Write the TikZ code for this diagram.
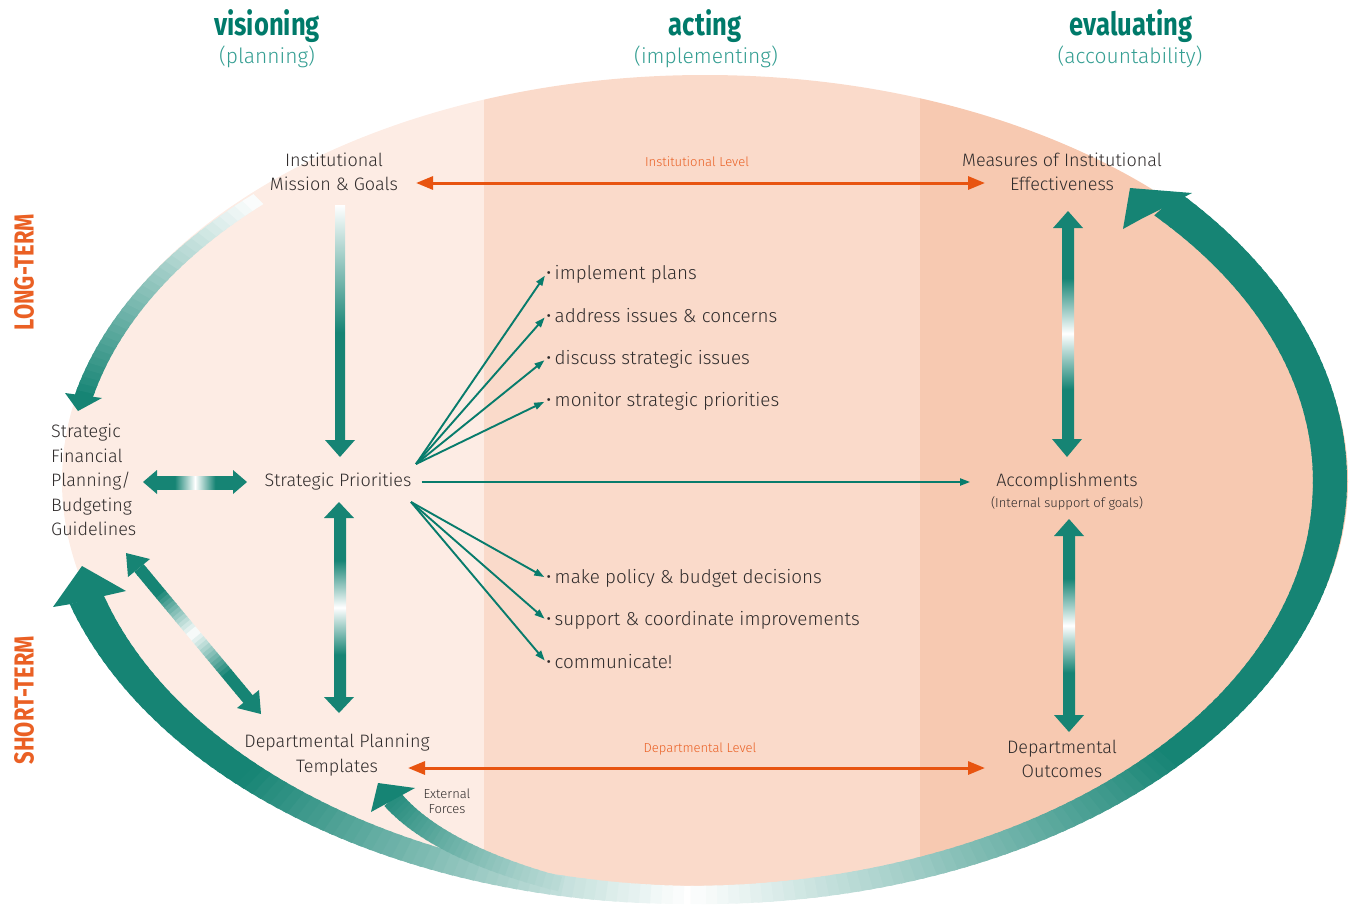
\documentclass[tikz,border=0pt]{standalone}
\usepackage{fontspec}
\setmainfont{Fira Sans Light}[BoldFont={Fira Sans Bold}]
\newfontfamily\headfont{Fira Sans}[FakeStretch=0.8]
\usetikzlibrary{arrows.meta}

\definecolor{tealdark}{RGB}{22,132,116}
\definecolor{tealline}{RGB}{8,124,108}
\definecolor{tealhead}{RGB}{0,122,106}
\definecolor{teallight}{RGB}{52,158,146}
\definecolor{orangeline}{RGB}{232,84,16}
\definecolor{orangetext}{RGB}{234,96,36}
\definecolor{labelgrey}{RGB}{48,44,44}
\definecolor{peachA}{RGB}{253,236,228}
\definecolor{peachB}{RGB}{250,218,202}
\definecolor{peachC}{RGB}{247,201,177}

\pgfdeclareverticalshading{tealfade}{100bp}{color(0bp)=(tealdark); color(37bp)=(tealdark); color(50bp)=(white); color(63bp)=(tealdark); color(100bp)=(tealdark)}
\pgfdeclarehorizontalshading{tealfadeh}{100bp}{color(0bp)=(tealdark); color(37bp)=(tealdark); color(50bp)=(white); color(63bp)=(tealdark); color(100bp)=(tealdark)}
\pgfdeclareverticalshading{tealrise}{100bp}{color(0bp)=(tealdark); color(48bp)=(tealdark); color(75bp)=(white); color(100bp)=(white)}

\begin{document}
\begin{tikzpicture}[x=1pt, y=-1pt,
	boxtext/.style={font=\fontsize{18}{24.5}\selectfont, text=labelgrey, align=center, inner sep=0pt},
	itemtext/.style={font=\fontsize{18.8}{22}\selectfont, text=labelgrey, anchor=west, inner sep=0pt},
	smalltext/.style={font=\fontsize{13}{15}\selectfont, text=labelgrey, align=center, inner sep=0pt},
	phasetext/.style={font=\headfont\bfseries\fontsize{32}{36}\selectfont, text=tealhead, inner sep=0pt},
	subtext/.style={font=\fontsize{21}{25}\selectfont, text=teallight, inner sep=0pt},
	termtext/.style={font=\headfont\bfseries\fontsize{27.5}{30}\selectfont, text=orangetext, rotate=90, inner sep=0pt},
	levelarrow/.style={orangeline, line width=3pt, arrows={Triangle[length=17pt,width=13pt]-Triangle[length=17pt,width=13pt]}},
	fanarrow/.style={tealline, line width=1.9pt, arrows={-Triangle[length=10pt,width=7pt]}, shorten >=2pt}]

	\useasboundingbox (0,0) rectangle (1351,907);

	% Ellipse mit drei Spalten
	\begin{scope}
		\clip (705,481) ellipse [x radius=643pt, y radius=406pt];
		\fill[peachA] (0,0) rectangle (484,907);
		\fill[peachB] (484,0) rectangle (920,907);
		\fill[peachC] (920,0) rectangle (1351,907);
	\end{scope}

	% Ring unten links
	\foreach \t in {90,...,162}{
		\pgfmathsetmacro{\fr}{(\t-90)/73}
		\pgfmathsetmacro{\hw}{9+8.5*\fr}
		\pgfmathsetmacro{\pc}{int(min(100,165*\fr))}
		\fill[tealdark!\pc!white] ({695+(635-\hw)*cos(\t)},{481+(414-\hw)*sin(\t)}) -- ({695+(635+\hw)*cos(\t)},{481+(414+\hw)*sin(\t)}) -- ({695+(635+\hw)*cos(\t+1.4)},{481+(414+\hw)*sin(\t+1.4)}) -- ({695+(635-\hw)*cos(\t+1.4)},{481+(414-\hw)*sin(\t+1.4)}) -- cycle;
	}
	\fill[tealdark] (53,607) -- (82,566) -- (126,591) -- (104,596) -- (71,604) -- cycle;

	% Ring rechts
	\foreach \t in {-42,...,89}{
		\pgfmathsetmacro{\fr}{(90-\t)/132}
		\pgfmathsetmacro{\hw}{9+8*min(1,1.5*\fr)}
		\pgfmathsetmacro{\pc}{int(min(100,270*\fr))}
		\fill[tealdark!\pc!white] ({695+(635-\hw)*cos(\t)},{481+(414-\hw)*sin(\t)}) -- ({695+(635+\hw)*cos(\t)},{481+(414+\hw)*sin(\t)}) -- ({695+(635+\hw)*cos(\t+1.4)},{481+(414+\hw)*sin(\t+1.4)}) -- ({695+(635-\hw)*cos(\t+1.4)},{481+(414-\hw)*sin(\t+1.4)}) -- cycle;
	}
	\fill[tealdark] (1123,229) -- (1130,188) -- (1192,193) -- (1173,203) -- (1143,218) -- cycle;

	% External Forces
	\foreach \i in {0,...,29}{
		\pgfmathsetmacro{\ta}{\i/30}
		\pgfmathsetmacro{\tb}{(\i+1.3)/30}
		\pgfmathsetmacro{\xa}{(1-\ta)^2*560+2*\ta*(1-\ta)*439+\ta^2*393}
		\pgfmathsetmacro{\ya}{(1-\ta)^2*884+2*\ta*(1-\ta)*852+\ta^2*800}
		\pgfmathsetmacro{\xb}{(1-\tb)^2*560+2*\tb*(1-\tb)*439+\tb^2*393}
		\pgfmathsetmacro{\yb}{(1-\tb)^2*884+2*\tb*(1-\tb)*852+\tb^2*800}
		\pgfmathsetmacro{\pc}{int(30+65*\ta)}
		\pgfmathsetmacro{\lw}{15+6*\ta}
		\draw[line width=\lw pt, tealdark!\pc!white] (\xa,\ya) -- (\xb,\yb);
	}
	\fill[tealdark] (378,783) -- (415,788) -- (371,812) -- cycle;

	% Bogen oben links
	\foreach \t in {192,...,224}{
		\pgfmathsetmacro{\fr}{(224.8-\t)/32.8}
		\pgfmathsetmacro{\hw}{7+2*\fr}
		\pgfmathsetmacro{\pc}{int(min(100,max(0,100*\fr)))}
		\fill[tealdark!\pc!white] ({705+(636-\hw)*cos(\t)},{481+(396-\hw)*sin(\t)}) -- ({705+(636+\hw)*cos(\t)},{481+(396+\hw)*sin(\t)}) -- ({705+(636+\hw)*cos(\t+1.4)},{481+(396+\hw)*sin(\t+1.4)}) -- ({705+(636-\hw)*cos(\t+1.4)},{481+(396-\hw)*sin(\t+1.4)}) -- cycle;
	}
	\fill[tealdark] (65,393) -- (102,398) -- (78,411) -- cycle;

	% Spaltenkoepfe
	\node[phasetext] (visioning) at (267,26) {visioning};
	\node[subtext] (planning) at (267,57) {(planning)};
	\node[phasetext] (acting) at (705,26) {acting};
	\node[subtext] (implementing) at (706,57) {(implementing)};
	\node[phasetext] (evaluating) at (1131,26) {evaluating};
	\node[subtext] (accountability) at (1130,57) {(accountability)};
	\node[termtext] (longterm) at (24,272) {LONG-TERM};
	\node[termtext] (shortterm) at (24,700) {SHORT-TERM};

	% Beschriftungen
	\node[boxtext] (mission) at (334,172) {Institutional\\Mission \& Goals};
	\node[boxtext] (measures) at (1062,172) {Measures of Institutional\\Effectiveness};
	\node[boxtext] (priorities) at (338,482) {Strategic Priorities};
	\node[boxtext, align=left, anchor=west] (financial) at (51,480) {Strategic\\Financial\\Planning/\\Budgeting\\Guidelines};
	\node[boxtext] (accompl) at (1067,482) {Accomplishments};
	\node[smalltext] (goals) at (1067,503) {(Internal support of goals)};
	\node[boxtext] (templates) at (337,755) {Departmental Planning\\Templates};
	\node[boxtext] (outcomes) at (1062,759) {Departmental\\Outcomes};
	\node[smalltext] (external) at (447,801) {External\\Forces};
	\node[smalltext, text=orangetext] (instlevel) at (697,162) {Institutional Level};
	\node[smalltext, text=orangetext] (deptlevel) at (700,749) {Departmental Level};

	% Aufzaehlung
	\node[itemtext] (implement) at (546,274) {•\,implement plans};
	\node[itemtext] (address) at (546,316) {•\,address issues \& concerns};
	\node[itemtext] (discuss) at (546,359) {•\,discuss strategic issues};
	\node[itemtext] (monitor) at (546,401) {•\,monitor strategic priorities};
	\node[itemtext] (policy) at (546,578) {•\,make policy \& budget decisions};
	\node[itemtext] (support) at (546,620) {•\,support \& coordinate improvements};
	\node[itemtext] (communicate) at (546,662) {•\,communicate!};

	% Verlaufspfeile
	\shade[shading=tealrise] (335,205) rectangle (345,441);
	\fill[tealdark] (325,440) -- (355,440) -- (340,457) -- cycle;
	\shade[shading=tealfade] (334,517) rectangle (346,698);
	\fill[tealdark] (324,518) -- (354,518) -- (339,502) -- cycle;
	\fill[tealdark] (324,697) -- (354,697) -- (339,713) -- cycle;
	\shade[shading=tealfadeh] (156,476) rectangle (234,489);
	\fill[tealdark] (157,470) -- (157,494) -- (143,482) -- cycle;
	\fill[tealdark] (233,470) -- (233,494) -- (247,482) -- cycle;
	\shade[shading=tealfade] (1062,227) rectangle (1074,440);
	\fill[tealdark] (1053,228) -- (1083,228) -- (1068,211) -- cycle;
	\fill[tealdark] (1052,439) -- (1082,439) -- (1067,457) -- cycle;
	\shade[shading=tealfade] (1063,535) rectangle (1075,716);
	\fill[tealdark] (1054,536) -- (1084,536) -- (1069,519) -- cycle;
	\fill[tealdark] (1054,715) -- (1084,715) -- (1069,732) -- cycle;
	\foreach \i in {0,...,39}{
		\pgfmathsetmacro{\pc}{int(min(100,abs(\i-19.5)*8))}
		\draw[line width=12pt, tealdark!\pc!white] ({139+2.725*\i},{568+3.275*\i}) -- ({139+2.725*(\i+1.2)},{568+3.275*(\i+1.2)});
	}
	\fill[tealdark] (126,553) -- (150,559) -- (128,577) -- cycle;
	\fill[tealdark] (261,714) -- (259,690) -- (237,708) -- cycle;

	% Ebenen
	\coordinate (instwest) at (416,183);
	\coordinate (insteast) at (985,183);
	\draw[levelarrow] (instwest) -- (insteast);
	\coordinate (deptwest) at (408,768);
	\coordinate (depteast) at (985,768);
	\draw[levelarrow] (deptwest) -- (depteast);

	% Pfeile von den Prioritaeten
	\coordinate (fanup) at (416,464);
	\coordinate (fandown) at (411,502);
	\foreach \bul in {implement,address,discuss,monitor}
		\draw[fanarrow] (fanup) -- (\bul.west);
	\foreach \bul in {policy,support,communicate}
		\draw[fanarrow] (fandown) -- (\bul.west);
	\draw[fanarrow] ([xshift=10pt]priorities.east) -- ([xshift=-24pt]accompl.west);
\end{tikzpicture}
\end{document}
